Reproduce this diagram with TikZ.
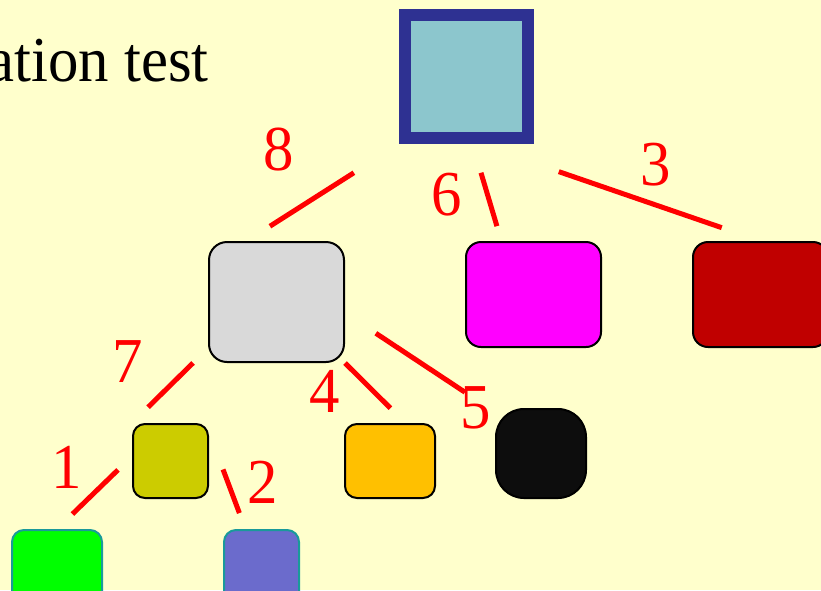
\documentclass[tikz,border=0pt]{standalone}
\usepackage{xcolor}
\usepackage{tikz}
\usepackage{fontspec}
\newfontfamily\slidefont{Liberation Serif}[FakeStretch=0.95]
\definecolor{Paper}{HTML}{FFFFCC}
\definecolor{Navy}{HTML}{2E3192}
\definecolor{Sky}{HTML}{8CC6CD}
\definecolor{Ink}{HTML}{000000}
\definecolor{Teal}{HTML}{199A9A}
\definecolor{Cut}{HTML}{FF0000}
\definecolor{Silver}{HTML}{D9D9D9}
\definecolor{Pink}{HTML}{FF00FF}
\definecolor{Maroon}{HTML}{C00000}
\definecolor{Olive}{HTML}{CCCC00}
\definecolor{Amber}{HTML}{FFC000}
\definecolor{Coal}{HTML}{0D0D0D}
\definecolor{Lime}{HTML}{00FF00}
\definecolor{Slate}{HTML}{6B6BCC}

\begin{document}
\begin{tikzpicture}[x=1pt,y=-1pt,
    tile/.style={draw=Ink,line width=2pt,rounded corners=#1},
    leaf/.style={draw=Teal,line width=2pt,rounded corners=12pt,minimum width=90pt,minimum height=74pt},
    link/.style={Cut,line width=5pt},
    num/.style={Cut,inner sep=0pt,font=\slidefont\fontsize{64}{70}\selectfont}]
  \useasboundingbox (0,0) rectangle (821,590);
  \fill[Paper] (0,0) rectangle (821,590);
  \clip (0,0) rectangle (821,590);
  \node[inner sep=0pt,anchor=base east,font=\slidefont\fontsize{64}{70}\selectfont] (title) at (209,81) {ation test};
  \node[draw=Navy,fill=Sky,line width=12pt,minimum size=123pt,inner sep=0pt] (root) at (466.5,76.5) {};
  \node[tile=18pt,fill=Silver,minimum width=135pt,minimum height=120pt] (silver) at (276.5,302) {};
  \node[tile=15pt,fill=Pink,minimum width=135pt,minimum height=105pt] (pink) at (533.5,294.5) {};
  \node[tile=15pt,fill=Maroon,minimum width=135pt,minimum height=105pt] (maroon) at (760.5,294.5) {};
  \node[tile=12pt,fill=Olive,minimum width=75pt,minimum height=74pt] (olive) at (170.5,461) {};
  \node[tile=12pt,fill=Amber,minimum width=90pt,minimum height=74pt] (amber) at (390,461) {};
  \node[tile=28pt,fill=Coal,minimum width=90pt,minimum height=89pt] (coal) at (541,453.5) {};
  \node[leaf,fill=Lime] (lime) at (57,567) {};
  \node[leaf,fill=Slate,minimum width=75pt] (slate) at (261.5,567) {};
  % cut edges
  \draw[link,shorten <=53.5pt,shorten >=27.5pt] (root.south west) -- (silver.116);
  \draw[link,shorten <=30pt,shorten >=15.5pt] (root.-85) -- (pink.121);
  \draw[link,shorten <=85pt,shorten >=41pt] (root.-80) -- (maroon.north);
  \draw[link,shorten <=21pt,shorten >=22.5pt] (silver.214) -- (olive.north west);
  \draw[link,shorten >=21pt] (silver.south east) -- (amber.68);
  \draw[link,shorten <=37pt,shorten >=36pt] (silver.-9) -- (coal.138);
  \draw[link,shorten <=19.5pt,shorten >=21.5pt] (olive.173) -- (lime.north);
  \draw[link,shorten <=40pt,shorten >=17pt] (olive.37) -- (slate.113);
  \node[num] (n8) at (279,150) {8};
  \node[num] (n6) at (447,195) {6};
  \node[num] (n3) at (656,165) {3};
  \node[num] (n7) at (128,362) {7};
  \node[num] (n4) at (325,391) {4};
  \node[num] (n5) at (476,408) {5};
  \node[num] (n1) at (67,467) {1};
  \node[num] (n2) at (263,482) {2};
\end{tikzpicture}
\end{document}
